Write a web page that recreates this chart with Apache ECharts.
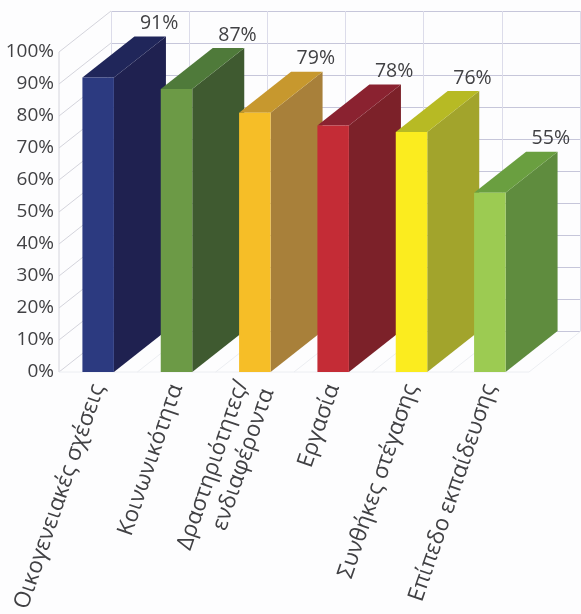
<!DOCTYPE html>
<html>
<head>
<meta charset="utf-8">
<style>html,body{margin:0;padding:0;background:#fdfdfe}#c{width:581px;height:614px}</style>
<script src="https://cdn.jsdelivr.net/npm/echarts@6/dist/echarts.min.js"></script>
</head>
<body>
<div id="c"></div>
<script>
const categories = ['Οικογενειακές σχέσεις','Κοινωνικότητα','Δραστηριότητες/\nενδιαφέροντα','Εργασία','Συνθήκες στέγασης','Επίπεδο εκπαίδευσης'];
const barHeights = [92,88.4,81,77,75,56];
const valueLabels = ['91%','87%','79%','78%','76%','55%'];
const ticks = [0,10,20,30,40,50,60,70,80,90,100];
const frontColors = ['#2c3a80','#6c9a46','#f6be27','#c42c36','#fbec1f','#9ccb52'];
const sideColors = ['#1f2150','#3f5a30','#a8803a','#7c2129','#a2a42c','#5f8c3e'];
const topColors = ['#20265a','#4f7a3a','#c7982e','#8a2230','#b7ba24','#6a9f40'];
const DX = 52, DY = -41, BAR_W = 31.5, FONT = '"Open Sans", sans-serif', TXT = '#414144';
const WALL = '#c6c6da', SIDE = '#d4d4dc', FLOOR = '#eceef2';
const poly = (points, fill) => ({type:'polygon', shape:{points}, style:{fill}});

const chart = echarts.init(document.getElementById('c'), null, {renderer:'canvas'});
chart.setOption({
  animation:false,
  backgroundColor:'#fdfdfe',
  grid:[
    {left:59, top:52, width:470, height:320, outerBoundsMode:'none', containLabel:false},
    {left:59+DX, top:52+DY, width:469, height:320, outerBoundsMode:'none', containLabel:false}
  ],
  xAxis:[
    {type:'category', gridIndex:0, data:categories, axisLine:{show:false}, axisTick:{show:false},
     axisLabel:{interval:0, rotate:71, margin:13, color:TXT, fontFamily:FONT, fontSize:22.5, lineHeight:27, hideOverlap:false}},
    {type:'category', gridIndex:1, data:categories, axisLine:{show:true,lineStyle:{color:WALL,width:1}}, axisTick:{show:false}, axisLabel:{show:false},
     splitLine:{show:true, interval:0, lineStyle:{color:'#dcdcea',width:1}}}
  ],
  yAxis:[
    {type:'value', gridIndex:0, min:0, max:100, interval:10, axisLine:{show:false}, axisTick:{show:false}, splitLine:{show:false},
     axisLabel:{margin:5, color:TXT, fontFamily:FONT, fontSize:19, formatter:'{value}%'}},
    {type:'value', gridIndex:1, min:0, max:100, interval:10, axisLine:{show:false}, axisTick:{show:false}, axisLabel:{show:false},
     splitLine:{show:true, lineStyle:{color:WALL,width:1}}}
  ],
  series:[
    {type:'custom', xAxisIndex:0, yAxisIndex:0, z:1, silent:true, clip:false,
     data:ticks.map(v=>[0,v]),
     renderItem(params, api){
       const v = api.value(1), y = api.coord([0, v])[1], x = params.coordSys.x;
       const children = [{type:'line', shape:{x1:x,y1:y,x2:x+DX,y2:y+DY}, style:{stroke:SIDE,lineWidth:1}}];
       if (v===0) {
         children.push({type:'line', shape:{x1:x,y1:y,x2:x,y2:y-params.coordSys.height}, style:{stroke:SIDE,lineWidth:1}});
         children.push({type:'line', shape:{x1:x,y1:y,x2:x+params.coordSys.width,y2:y}, style:{stroke:FLOOR,lineWidth:1}});
       }
       return {type:'group', children};
     }},
    {type:'custom', xAxisIndex:0, yAxisIndex:0, z:1, silent:true, clip:false,
     data:categories.map((c,i)=>[i,0]),
     renderItem(params, api){
       const i = api.value(0), p = api.coord([i,0]), hw = api.size([1,0])[0]/2;
       const x = p[0]+hw, y = p[1];
       return {type:'line', shape:{x1:x,y1:y,x2:x+DX,y2:y+DY}, style:{stroke:FLOOR,lineWidth:1}};
     }},
    {type:'custom', xAxisIndex:0, yAxisIndex:0, z:2, silent:true, clip:false,
     data:barHeights.map((v,i)=>[i,v]),
     renderItem(params, api){
       const i = api.value(0), v = api.value(1);
       const top = api.coord([i, v]), base = api.coord([i, 0]);
       const l = top[0]-BAR_W/2, r = top[0]+BAR_W/2, t = top[1], b = base[1];
       return {type:'group', children:[
         poly([[r,t],[r+DX,t+DY],[r+DX,b+DY],[r,b]], sideColors[i]),
         poly([[l,t],[l+DX,t+DY],[r+DX,t+DY],[r,t]], topColors[i]),
         poly([[l,t],[r,t],[r,b],[l,b]], frontColors[i]),
         {type:'text', style:{x:top[0]+DX+9, y:t+DY-13, text:valueLabels[i], fill:TXT, font:'19.5px '+FONT, textAlign:'center', textVerticalAlign:'middle'}}
       ]};
     }},
    {type:'line', xAxisIndex:1, yAxisIndex:1, data:[], silent:true}
  ]
});
</script>
</body>
</html>
